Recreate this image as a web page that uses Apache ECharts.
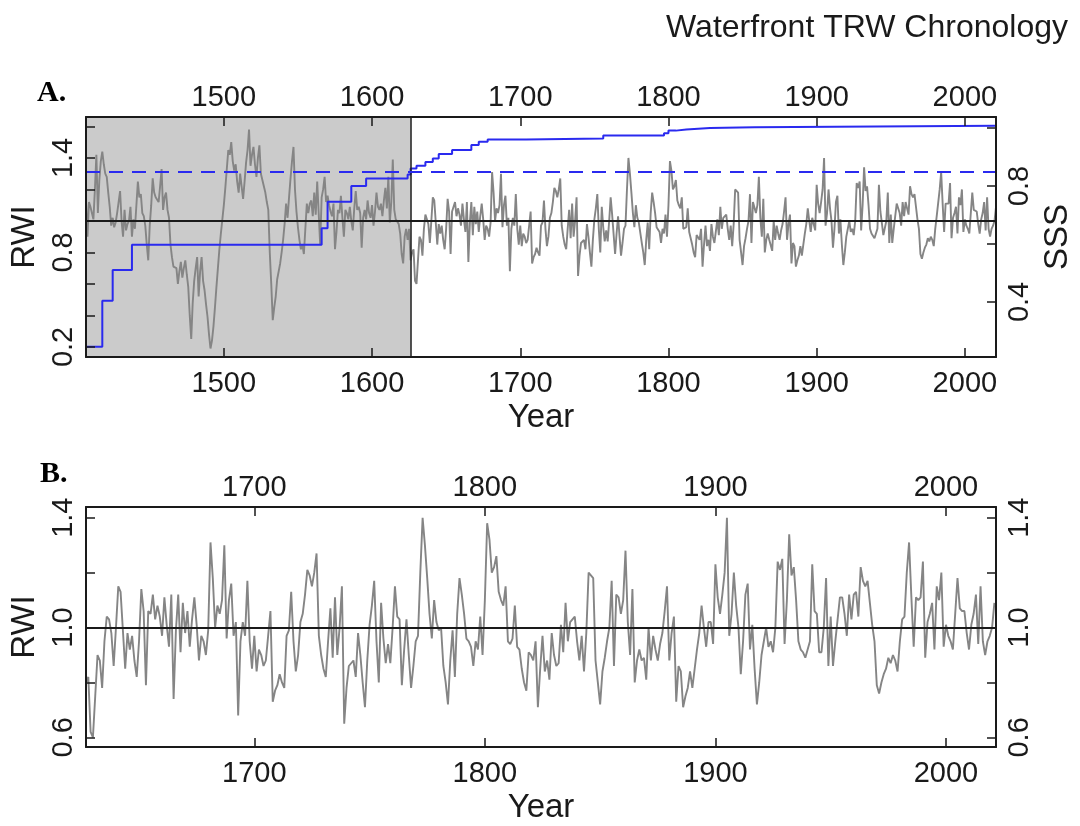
<!DOCTYPE html>
<html lang="en">
  <meta charset="utf-8" />
  <head>
    <title>Waterfront TRW Chronology</title>
    <script src="https://cdn.jsdelivr.net/npm/echarts@6.0.0/dist/echarts.min.js"></script>
  </head>
  <style>
    * {
      margin: 0;
      padding: 0;
    }

    body {
      width: 1080px;
      height: 826px;
      background: #fff;
    }

    #main {
      width: 1080px;
      height: 826px;
    }
  </style>
  <body>
    <div id="main"></div>
    <script>
      // first year of each block of ring-width indices
      const EARLY_START = 1407;
      const LATE_START = 1627;

      // RWI 1407-1626 (shaded, low sample depth part of panel A)
      const rwiEarly = [
        1.13, 0.90, 1.12,
        1.09, 1.09, 1.01, 1.20, 1.42, 1.05, 1.26, 1.38, 1.44, 1.36, // 1410s
        1.30, 1.28, 1.18, 1.09, 0.97, 1.02, 0.96, 0.99, 1.05, 1.12, // 1420s
        1.19, 1.00, 0.90, 1.07, 0.94, 0.98, 1.00, 1.09, 0.90, 1.01, // 1430s
        0.95, 1.10, 1.25, 1.15, 1.17, 1.05, 1.03, 0.97, 0.85, 0.75, // 1440s
        0.97, 1.10, 1.27, 1.18, 1.15, 1.16, 1.12, 1.22, 1.33, 1.07, // 1450s
        1.15, 1.18, 1.07, 1.02, 0.85, 0.77, 0.71, 0.72, 0.70, 0.60, // 1460s
        0.68, 0.74, 0.64, 0.70, 0.75, 0.66, 0.58, 0.40, 0.25, 0.48, // 1470s
        0.62, 0.70, 0.77, 0.52, 0.68, 0.77, 0.62, 0.56, 0.47, 0.39, // 1480s
        0.28, 0.19, 0.24, 0.33, 0.45, 0.58, 0.70, 0.82, 0.92, 1.01, // 1490s
        1.10, 1.21, 1.33, 1.45, 1.42, 1.50, 1.38, 1.32, 1.36, 1.25, // 1500s
        1.18, 1.30, 1.22, 1.14, 1.25, 1.37, 1.45, 1.58, 1.35, 1.42, // 1510s
        1.47, 1.36, 1.28, 1.40, 1.48, 1.30, 1.26, 1.22, 1.18, 1.12, // 1520s
        1.07, 0.80, 0.60, 0.37, 0.45, 0.52, 0.63, 0.68, 0.73, 0.80, // 1530s
        0.88, 0.98, 1.11, 1.02, 1.15, 1.27, 1.38, 1.47, 1.20, 1.06, // 1540s
        0.96, 0.88, 0.82, 0.85, 0.79, 0.95, 1.11, 1.05, 1.11, 1.13, // 1550s
        1.03, 1.18, 1.04, 1.25, 1.05, 0.85, 1.15, 1.20, 1.28, 1.12, // 1560s
        1.16, 1.10, 1.06, 1.03, 1.11, 0.82, 0.93, 1.07, 1.05, 1.16, // 1570s
        1.02, 0.90, 1.07, 1.05, 1.01, 1.09, 1.00, 0.94, 1.08, 1.19, // 1580s
        1.07, 1.09, 1.05, 0.83, 1.02, 1.07, 1.01, 1.13, 1.05, 1.02, // 1590s
        1.10, 0.97, 1.06, 1.18, 1.09, 1.07, 1.11, 1.03, 1.13, 1.21, // 1600s
        1.08, 1.28, 0.99, 1.12, 1.39, 1.07, 1.01, 1.00, 0.98, 0.92, // 1610s
        0.79, 0.73, 0.90, 0.95, 0.88, 0.95, 0.75
      ];

      // RWI 1627-2021 (panel B, and unshaded part of panel A)
      const rwiLate = [
        0.80, 0.82, 0.62,
        0.60, 0.75, 0.90, 0.88, 0.78, 0.95, 1.04, 1.03, 0.98, 0.86, // 1630s
        1.00, 1.15, 1.13, 0.99, 0.85, 0.98, 0.92, 0.97, 0.88, 0.82, // 1640s
        0.95, 1.14, 1.06, 0.79, 1.06, 1.05, 1.12, 1.03, 1.08, 1.04, // 1650s
        0.97, 1.11, 1.01, 0.93, 1.12, 0.74, 0.99, 1.12, 0.91, 1.09, // 1660s
        0.98, 1.06, 0.93, 1.03, 1.11, 1.01, 0.88, 0.97, 0.95, 0.90, // 1670s
        0.99, 1.31, 1.18, 1.00, 1.08, 1.05, 1.10, 1.30, 0.96, 1.10, // 1680s
        1.16, 0.97, 1.02, 0.68, 0.95, 1.02, 0.97, 1.17, 0.95, 0.85, // 1690s
        0.97, 0.84, 0.92, 0.90, 0.86, 0.88, 0.97, 1.06, 0.73, 0.77, // 1700s
        0.79, 0.83, 0.80, 0.78, 0.97, 0.99, 1.13, 0.95, 0.84, 0.90, // 1710s
        1.02, 1.05, 1.12, 1.21, 1.19, 1.15, 1.20, 1.27, 0.97, 0.90, // 1720s
        0.85, 0.82, 0.95, 1.07, 0.89, 1.11, 0.90, 1.00, 1.15, 0.65, // 1730s
        0.78, 0.86, 0.87, 0.88, 0.82, 0.98, 0.90, 0.80, 0.71, 0.88, // 1740s
        1.01, 1.08, 1.17, 0.95, 0.80, 1.09, 0.96, 0.87, 0.94, 0.87, // 1750s
        1.00, 1.15, 1.04, 1.03, 0.79, 0.92, 1.03, 0.90, 0.78, 0.86, // 1760s
        0.95, 0.97, 1.20, 1.40, 1.30, 1.18, 1.05, 0.96, 1.10, 1.02, // 1770s
        0.99, 1.00, 0.86, 0.80, 0.72, 0.88, 0.99, 0.82, 1.05, 1.18, // 1780s
        1.12, 1.05, 0.96, 0.95, 0.93, 0.86, 0.95, 0.92, 1.04, 0.90, // 1790s
        1.10, 1.38, 1.32, 1.20, 1.22, 1.26, 1.13, 1.10, 1.08, 1.15, // 1800s
        0.95, 0.94, 0.96, 1.08, 0.93, 0.92, 0.85, 0.80, 0.77, 0.91, // 1810s
        0.90, 0.88, 0.95, 0.71, 0.85, 0.97, 0.84, 0.88, 0.81, 0.98, // 1820s
        0.90, 0.86, 0.87, 1.01, 0.91, 1.09, 0.95, 1.02, 1.03, 1.04, // 1830s
        0.95, 0.88, 0.97, 0.84, 0.98, 1.20, 1.19, 1.18, 0.88, 0.80, // 1840s
        0.72, 0.84, 0.89, 0.95, 1.00, 1.17, 0.86, 1.12, 1.11, 1.05, // 1850s
        1.10, 1.28, 1.02, 0.90, 1.14, 0.80, 0.88, 0.92, 0.88, 0.89, // 1860s
        0.81, 1.00, 0.88, 0.97, 0.92, 0.88, 0.94, 0.98, 1.06, 1.15, // 1870s
        0.88, 0.98, 1.04, 0.73, 0.86, 0.84, 0.71, 0.75, 0.78, 0.84, // 1880s
        0.78, 0.85, 0.92, 0.98, 1.08, 1.00, 0.93, 1.02, 1.02, 0.94, // 1890s
        1.23, 1.11, 1.05, 1.12, 1.20, 1.40, 0.97, 1.05, 1.20, 1.08, // 1900s
        1.00, 0.83, 0.95, 1.12, 1.16, 0.92, 1.01, 0.85, 0.72, 0.80, // 1910s
        0.90, 0.95, 1.00, 0.93, 0.95, 0.91, 1.00, 1.24, 1.21, 1.25, // 1920s
        0.94, 1.10, 1.34, 1.19, 1.22, 1.10, 0.95, 0.92, 0.91, 0.89, // 1930s
        0.92, 0.95, 1.23, 1.06, 1.05, 0.91, 0.91, 1.00, 1.18, 0.86, // 1940s
        1.04, 0.86, 0.95, 1.03, 1.11, 1.11, 1.05, 0.97, 1.12, 1.03, // 1950s
        1.12, 1.13, 1.04, 1.22, 1.17, 1.15, 1.17, 1.09, 1.01, 0.95, // 1960s
        0.79, 0.76, 0.80, 0.83, 0.85, 0.89, 0.87, 0.90, 0.88, 0.84, // 1970s
        0.95, 1.03, 1.04, 1.20, 1.31, 1.11, 0.93, 1.11, 1.10, 1.11, // 1980s
        1.24, 0.89, 1.02, 1.05, 1.09, 0.92, 1.15, 1.10, 1.20, 0.93, // 1990s
        1.01, 0.97, 0.95, 0.92, 1.05, 1.18, 1.07, 1.06, 1.06, 0.98, // 2000s
        0.92, 1.01, 1.05, 1.12, 0.94, 1.15, 0.95, 0.90, 0.95, 0.97, // 2010s
        1.00, 1.09
      ];

      // subsample signal strength, changes only when sample depth changes
      const sssYears = [1407, 1418, 1425, 1438, 1566, 1570, 1586, 1596, 1624, 1626, 1630, 1636, 1641, 1645, 1654, 1667, 1672, 1678, 1704, 1756, 1797, 1800, 1805, 1812, 1828, 1858, 2021];
      const sssValues = [0.245, 0.404, 0.510, 0.597, 0.654, 0.746, 0.800, 0.826, 0.840, 0.860, 0.870, 0.883, 0.895, 0.910, 0.924, 0.941, 0.953, 0.960, 0.964, 0.974, 0.982, 0.991, 0.995, 1.000, 1.003, 1.008, 1.008];
      const sssThreshold = 0.85;
      const shadeEnd = 1626;

      const yearTicksA = [1500, 1600, 1700, 1800, 1900, 2000];
      const yearTicksB = [1700, 1800, 1900, 2000];
      const rwiTicksA = [0.2, 0.4, 0.6, 0.8, 1.0, 1.2, 1.4, 1.6];
      const rwiLabelsA = [0.2, 0.8, 1.4];
      const sssTicks = [0.4, 0.6, 0.8, 1.0];
      const sssLabels = [0.4, 0.8];
      const rwiTicksB = [0.6, 0.8, 1.0, 1.2, 1.4];
      const rwiLabelsB = [0.6, 1.0, 1.4];

      const FONT = '"Liberation Sans", Arial, sans-serif';
      const INK = "#1a1a1a";
      const GRAY = "#858585";
      const BLUE = "#2a2aef";

      const rwiA = rwiEarly.concat(rwiLate).map((v, i) => [EARLY_START + i, v]);
      const rwiB = rwiLate.map((v, i) => [LATE_START + i, v]);
      const sss = sssYears.map((y, i) => [y, sssValues[i]]);

      function yearAxis(gridIndex, position, min, max, ticks, withName) {
        return {
          type: "value",
          gridIndex,
          position,
          min,
          max,
          z: 10,
          axisLine: { show: true, onZero: false, lineStyle: { color: INK, width: 2 } },
          axisTick: {
            show: true,
            inside: true,
            length: 9,
            customValues: ticks,
            lineStyle: { color: INK, width: 1.5 },
          },
          axisLabel: {
            show: true,
            customValues: ticks,
            formatter: (v) => String(v),
            margin: position === "top" ? 5 : 12,
            fontSize: 29,
            color: INK,
            fontFamily: FONT,
          },
          splitLine: { show: false },
          name: withName ? "Year" : "",
          nameLocation: "middle",
          nameGap: 44,
          nameTextStyle: { fontSize: 33, color: INK, fontFamily: FONT },
        };
      }

      function valueAxis(gridIndex, position, min, max, ticks, labels, name) {
        return {
          type: "value",
          gridIndex,
          position,
          min,
          max,
          z: 10,
          axisLine: { show: true, onZero: false, lineStyle: { color: INK, width: 2 } },
          axisTick: {
            show: true,
            inside: true,
            length: 9,
            customValues: ticks,
            lineStyle: { color: INK, width: 1.5 },
          },
          axisLabel: {
            show: true,
            customValues: labels,
            formatter: (v) => v.toFixed(1),
            rotate: 90,
            margin: position === "left" ? 8 : 9,
            fontSize: 29,
            color: INK,
            fontFamily: FONT,
          },
          splitLine: { show: false },
          name: name,
          nameLocation: "middle",
          nameRotate: 90,
          nameGap: position === "left" ? 42 : 44,
          nameTextStyle: { fontSize: 33, color: INK, fontFamily: FONT },
        };
      }

      const chart = echarts.init(document.getElementById("main"), null, { renderer: "canvas" });

      const option = {
        animation: false,
        backgroundColor: "#fff",
        title: {
          text: "Waterfront TRW Chronology",
          right: 7,
          top: 7,
          textStyle: { fontSize: 32, fontWeight: "normal", color: INK, fontFamily: FONT },
        },
        graphic: [
          {
            type: "text",
            left: 37,
            top: 78,
            style: { text: "A.", font: 'bold 30px "Liberation Serif"', fill: "#000" },
          },
          {
            type: "text",
            left: 40,
            top: 459,
            style: { text: "B.", font: 'bold 30px "Liberation Serif"', fill: "#000" },
          },
        ],
        grid: [
          { left: 86, right: 84, top: 117, height: 240, outerBoundsMode: "none" },
          { left: 86, right: 84, top: 507, height: 240, outerBoundsMode: "none" },
        ],
        xAxis: [
          yearAxis(0, "bottom", 1407, 2021, yearTicksA, true),
          yearAxis(0, "top", 1407, 2021, yearTicksA, false),
          yearAxis(1, "bottom", 1627, 2021.7, yearTicksB, true),
          yearAxis(1, "top", 1627, 2021.7, yearTicksB, false),
        ],
        yAxis: [
          valueAxis(0, "left", 0.136, 1.66, rwiTicksA, rwiLabelsA, "RWI"),
          valueAxis(0, "right", 0.21, 1.038, sssTicks, sssLabels, "SSS"),
          valueAxis(1, "left", 0.565, 1.439, rwiTicksB, rwiLabelsB, "RWI"),
          valueAxis(1, "right", 0.565, 1.439, rwiTicksB, rwiLabelsB, ""),
        ],
        series: [
          {
            name: "RWI A",
            type: "line",
            xAxisIndex: 0,
            yAxisIndex: 0,
            data: rwiA,
            symbol: "none",
            silent: true,
            lineStyle: { color: GRAY, width: 1.9 },
            markArea: {
              silent: true,
              itemStyle: { color: "#cbcbcb" },
              data: [[{ xAxis: EARLY_START }, { xAxis: shadeEnd }]],
            },
            markLine: {
              silent: true,
              symbol: ["none", "none"],
              label: { show: false },
              lineStyle: { color: INK, width: 2.2, type: "solid" },
              data: [{ yAxis: 1.0 }, { xAxis: shadeEnd, lineStyle: { width: 1.5 } }],
            },
          },
          {
            name: "SSS",
            type: "line",
            xAxisIndex: 0,
            yAxisIndex: 1,
            data: sss,
            step: "end",
            symbol: "none",
            silent: true,
            lineStyle: { color: BLUE, width: 2 },
            markLine: {
              silent: true,
              symbol: ["none", "none"],
              label: { show: false },
              lineStyle: { color: BLUE, width: 2, type: [14, 9] },
              data: [{ yAxis: sssThreshold }],
            },
          },
          {
            name: "RWI B",
            type: "line",
            xAxisIndex: 2,
            yAxisIndex: 2,
            data: rwiB,
            symbol: "none",
            silent: true,
            lineStyle: { color: GRAY, width: 1.9 },
            markLine: {
              silent: true,
              symbol: ["none", "none"],
              label: { show: false },
              lineStyle: { color: INK, width: 2.2, type: "solid" },
              data: [{ yAxis: 1.0 }],
            },
          },
        ],
      };

      chart.setOption(option);
    </script>
  </body>
</html>
